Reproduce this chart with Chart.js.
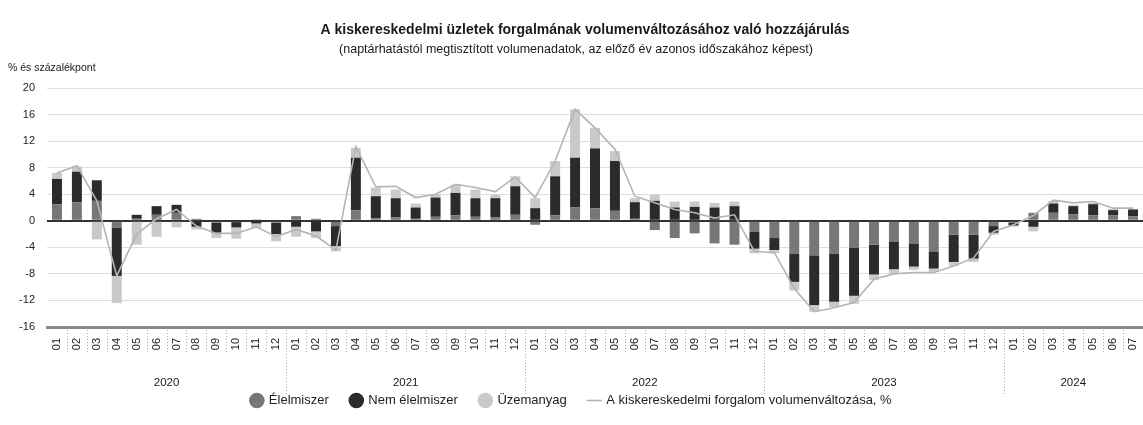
<!DOCTYPE html>
<html lang="hu">
<head>
<meta charset="utf-8">
<title>Kiskereskedelmi forgalom – hozzájárulás</title>
<script src="https://cdn.jsdelivr.net/npm/chart.js@4.4.1/dist/chart.umd.min.js"></script>
<style>
  html, body { margin: 0; padding: 0; background: #fff; }
  .wrap { position: relative; width: 1143px; height: 425px; }
</style>
</head>
<body>
<div class="wrap"><canvas id="retailChart"></canvas></div>
<script>
// --- Texts ---
const chartTitle = 'A kiskereskedelmi üzletek forgalmának volumenváltozásához való hozzájárulás';
const chartSubtitle = '(naptárhatástól megtisztított volumenadatok, az előző év azonos időszakához képest)';
const yUnitLabel = '% és százalékpont';

// --- Categories ---
const monthLabels = [
  '01','02','03','04','05','06','07','08','09','10','11','12',
  '01','02','03','04','05','06','07','08','09','10','11','12',
  '01','02','03','04','05','06','07','08','09','10','11','12',
  '01','02','03','04','05','06','07','08','09','10','11','12',
  '01','02','03','04','05','06','07'
];
const yearLabels = ['2020', '2021', '2022', '2023', '2024'];
const yearMonthCounts = [12, 12, 12, 12, 7];
const yTicks = [20, 16, 12, 8, 4, 0, -4, -8, -12, -16];

// --- Series (percentage points / %) ---
const elelmiszer = [
  2.5, 2.8, 3.0, -1.0, 0.3, 0.9, 1.2, 0.3, -0.3, -0.2, 0.2, -0.3,
  0.7, 0.3, -0.8, 1.6, 0.4, 0.5, 0.3, 0.6, 0.8, 0.6, 0.5, 0.9,
  -0.6, 0.8, 2.0, 1.9, 1.5, 0.3, -1.4, -2.6, -1.9, -3.4, -3.6, -1.6,
  -2.6, -5.0, -5.2, -5.0, -4.1, -3.6, -3.1, -3.4, -4.6, -2.1, -2.1, -0.8,
  -0.3, 1.2, 1.2, 1.0, 0.8, 0.8, 0.7
];
const nemElelmiszer = [
  3.8, 4.6, 3.1, -7.3, 0.6, 1.3, 1.2, -0.9, -1.5, -0.8, -0.4, -1.7,
  -0.9, -1.6, -3.0, 7.9, 3.3, 2.9, 1.7, 2.9, 3.4, 2.8, 2.9, 4.3,
  1.9, 5.9, 7.5, 9.0, 7.5, 2.5, 3.0, 2.0, 2.1, 2.0, 2.2, -2.6,
  -1.8, -4.2, -7.5, -7.2, -7.2, -4.5, -4.2, -3.5, -2.6, -4.1, -3.6, -1.0,
  -0.4, -0.9, 1.4, 1.2, 1.7, 0.8, 1.0
];
const uzemanyag = [
  0.9, 0.8, -2.8, -4.1, -3.6, -2.4, -1.0, -0.4, -0.8, -1.7, -0.7, -1.1,
  -1.5, -1.0, -0.8, 1.5, 1.3, 1.3, 0.6, 0.5, 1.2, 1.3, 0.5, 1.5,
  1.5, 2.3, 7.3, 3.1, 1.5, 0.6, 0.9, 0.9, 0.8, 0.7, 0.7, -0.7,
  -0.5, -1.3, -1.0, -0.8, -1.2, -0.8, -0.6, -0.5, -0.5, -0.6, -0.5, -0.3,
  -0.2, -0.7, 0.4, 0.2, 0.2, 0.2, 0.1
];
const forgalomValtozas = [
  7.2, 8.3, 3.0, -8.3, -2.0, 0.3, 1.7, -0.8, -1.9, -1.9, -0.9, -2.4,
  -1.3, -2.3, -4.4, 11.2, 5.1, 5.2, 3.5, 4.0, 5.5, 5.0, 4.4, 6.6,
  3.5, 9.0, 16.8, 14.0, 10.8, 3.7, 2.7, 1.7, 1.2, 0.4, 0.9, -4.6,
  -4.8, -10.2, -13.7, -13.1, -12.3, -8.8, -8.0, -7.8, -7.8, -6.8, -5.6, -1.6,
  -0.6, 0.8, 3.1, 2.7, 2.9, 1.9, 1.9
];

const FONT = '"Liberation Sans", Arial, Helvetica, sans-serif';
Chart.defaults.font.family = FONT;
Chart.defaults.color = '#222';

// titles, unit label, year labels and the dotted separators under the axis
const decorations = {
  id: 'decorations',
  afterDraw(chart) {
    const { ctx, chartArea, scales: { x } } = chart;
    ctx.save();
    ctx.fillStyle = '#1a1a1a';
    ctx.textAlign = 'center';
    ctx.textBaseline = 'middle';
    ctx.font = `bold 14px ${FONT}`;
    ctx.fillText(chartTitle, 585, 30);
    ctx.font = `12.5px ${FONT}`;
    ctx.fillText(chartSubtitle, 576, 50);
    ctx.textAlign = 'left';
    ctx.font = `10.5px ${FONT}`;
    ctx.fillText(yUnitLabel, 8, 68);

    const half = (x.getPixelForValue(1) - x.getPixelForValue(0)) / 2;
    const top = chartArea.bottom + 3;
    ctx.strokeStyle = '#a8a8a8';
    ctx.lineWidth = 1;
    ctx.setLineDash([1, 2]);
    for (let i = 1; i < monthLabels.length; i++) {
      const bx = Math.round(x.getPixelForValue(i) - half) + 0.5;
      ctx.beginPath();
      ctx.moveTo(bx, top);
      ctx.lineTo(bx, top + 22);
      ctx.stroke();
    }

    ctx.textAlign = 'center';
    ctx.font = `11.5px ${FONT}`;
    let start = 0;
    yearLabels.forEach((year, i) => {
      const end = start + yearMonthCounts[i] - 1;
      const cx = (x.getPixelForValue(start) + x.getPixelForValue(end)) / 2;
      ctx.fillText(year, cx, 383);
      if (start > 0) {
        const bx = Math.round(x.getPixelForValue(start) - half) + 0.5;
        ctx.beginPath();
        ctx.moveTo(bx, top);
        ctx.lineTo(bx, 394);
        ctx.stroke();
      }
      start = end + 1;
    });
    ctx.restore();
  }
};

const ctx = document.getElementById('retailChart').getContext('2d');
new Chart(ctx, {
  data: {
    labels: monthLabels,
    datasets: [
      {
        type: 'line',
        label: 'A kiskereskedelmi forgalom volumenváltozása, %',
        data: forgalomValtozas,
        stack: 'total',
        order: 0,
        borderColor: '#b4b4b4',
        backgroundColor: '#b4b4b4',
        borderWidth: 1.6,
        pointRadius: 0,
        pointStyle: 'line',
        tension: 0
      },
      {
        type: 'bar',
        label: 'Élelmiszer',
        data: elelmiszer,
        stack: 'parts',
        order: 1,
        backgroundColor: '#777777',
        pointStyle: 'circle',
        barPercentage: 0.5,
        categoryPercentage: 1
      },
      {
        type: 'bar',
        label: 'Nem élelmiszer',
        data: nemElelmiszer,
        stack: 'parts',
        order: 1,
        backgroundColor: '#2b2b2b',
        pointStyle: 'circle',
        barPercentage: 0.5,
        categoryPercentage: 1
      },
      {
        type: 'bar',
        label: 'Üzemanyag',
        data: uzemanyag,
        stack: 'parts',
        order: 1,
        backgroundColor: '#c9c9c9',
        pointStyle: 'circle',
        barPercentage: 0.5,
        categoryPercentage: 1
      }
    ]
  },
  options: {
    responsive: true,
    maintainAspectRatio: false,
    animation: false,
    layout: { padding: { top: 88, right: 0, bottom: 8, left: 0 } },
    scales: {
      x: {
        stacked: true,
        offset: true,
        afterFit: (scale) => {
          scale.height = 45;
          scale.paddingLeft = 0;
          scale.paddingRight = 0;
        },
        grid: { display: false },
        border: { display: true, color: '#8a8a8a', width: 3 },
        ticks: {
          autoSkip: false,
          maxRotation: 90,
          minRotation: 90,
          padding: 3,
          font: { size: 11 },
          color: '#222'
        }
      },
      y: {
        stacked: true,
        min: -16,
        max: 20,
        afterFit: (scale) => { scale.width = 47; },
        afterBuildTicks: (scale) => { scale.ticks = yTicks.map(v => ({ value: v })); },
        border: { display: false },
        grid: {
          drawTicks: false,
          color: (c) => (c.tick && c.tick.value === 0 ? '#333' : '#dedede'),
          lineWidth: (c) => (c.tick && c.tick.value === 0 ? 2 : 1)
        },
        ticks: { padding: 12, font: { size: 11 }, color: '#222' }
      }
    },
    plugins: {
      legend: {
        position: 'bottom',
        labels: {
          usePointStyle: true,
          boxWidth: 11,
          boxHeight: 11,
          padding: 22,
          font: { size: 13 },
          color: '#222',
          sort: (a, b) => (a.datasetIndex === 0 ? 1 : b.datasetIndex === 0 ? -1 : a.datasetIndex - b.datasetIndex)
        }
      },
      tooltip: { enabled: false }
    }
  },
  plugins: [decorations]
});
</script>
</body>
</html>
